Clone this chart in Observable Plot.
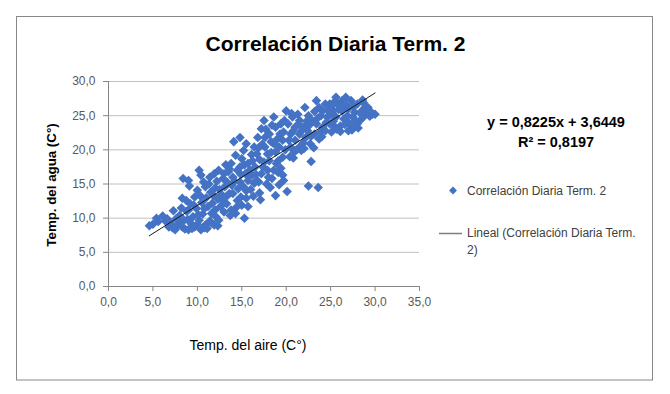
<!DOCTYPE html>
<html><head><meta charset="utf-8">
<script src="https://cdn.jsdelivr.net/npm/d3@7"></script>
<script src="https://cdn.jsdelivr.net/npm/@observablehq/plot@0.6"></script>
<style>html,body{margin:0;padding:0;background:#fff;} svg{display:block}</style>
</head><body><div id="chart"></div>
<script>
const chartTitle = "Correlación Diaria Term. 2";
const xTitle = "Temp. del aire (C°)";
const yTitle = "Temp. del agua (C°)";
const seriesName = "Correlación Diaria Term. 2";
const trendNameLines = ["Lineal (Correlación Diaria Term.", "2)"];
const xTicks = [0, 5, 10, 15, 20, 25, 30, 35];
const yTicks = [0, 5, 10, 15, 20, 25, 30];
const trendSlope = 0.8225;
const trendIntercept = 3.6449;
const trendRange = [4.6, 30.0];
const equationLines = ["y = 0,8225x + 3,6449", "R² = 0,8197"];

// [air temp, water temp]
const dailyPairs = [
  [4.6,8.9],[5.0,9.1],[5.4,10.0],[5.6,9.5],[6.1,10.3],[6.4,9.6],[6.8,8.7],[7.3,11.1],[7.0,9.3],
  [7.5,8.3],[7.8,9.0],[8.3,8.7],[8.0,10.4],[8.5,9.7],[8.8,11.0],[9.0,8.3],[9.3,9.2],[9.5,10.2],[9.7,8.7],
  [10.2,9.7],[10.4,8.3],[10.6,10.6],[10.9,9.0],[11.1,8.5],[11.4,9.6],[7.6,9.9],[8.6,8.4],
  [6.6,9.9],[7.2,8.6],[8.1,9.2],[8.9,9.8],[9.4,8.5],[10.0,9.1],[10.8,8.6],[11.6,9.3],[12.3,8.9],
  [12.0,11.2],[10.1,10.5],[9.0,11.2],[8.2,11.5],[9.6,11.9],
  [8.4,15.8],[9.0,15.5],[9.1,14.7],[8.3,12.9],[8.75,12.6],[9.2,12.1],[9.7,13.1],[10.0,14.1],[10.2,17.0],
  [10.4,16.3],[10.7,15.3],[10.9,14.6],[11.4,16.0],[11.9,16.5],[11.2,11.7],[11.6,10.7],[12.1,10.2],[11.9,9.0],
  [12.4,9.7],[12.6,11.7],[12.8,12.6],[13.1,14.6],[12.4,17.0],[13.2,17.8],[9.9,11.4],[10.5,12.3],[10.3,13.3],
  [11.0,13.0],[11.5,13.8],[12.0,14.4],[12.2,15.4],[11.7,12.2],[12.9,15.8],[13.0,10.9],[12.7,13.5],[11.3,15.0],
  [10.8,11.4],[11.8,13.3],[12.5,14.2],[13.3,13.2],[13.9,14.8],[14.2,15.4],[14.9,13.1],[15.5,14.0],[14.4,11.6],
  [13.0,16.5],[12.3,12.8],[13.6,17.2],[14.9,16.4],[15.8,16.2],[16.4,15.1],[16.1,19.3],[15.3,17.8],
  [14.1,21.2],[14.8,21.8],[15.5,20.9],[15.2,19.9],[14.3,19.2],[13.8,18.0],[14.8,17.5],[15.7,18.0],[16.2,18.4],
  [16.7,19.4],[16.4,20.4],[14.0,16.0],[14.8,15.3],[15.2,14.6],[15.7,15.5],[16.2,16.3],[16.7,15.5],[14.0,13.6],
  [14.5,12.6],[15.0,11.9],[15.5,12.9],[13.8,11.2],[14.3,10.7],[15.3,10.0],[15.7,11.7],[13.3,12.1],[13.6,13.6],
  [13.5,16.8],[14.5,17.0],[15.0,18.7],[15.9,17.0],[16.0,14.2],[16.5,17.5],[13.4,15.2],[14.6,14.3],[15.4,16.5],
  [16.3,13.2],[13.7,10.4],
  [17.5,24.3],[17.2,23.1],[16.8,21.8],[17.6,21.8],[18.1,22.3],[18.6,24.8],[18.8,23.3],[19.3,22.3],[20.0,25.7],
  [19.8,24.3],[19.6,21.4],[18.6,20.9],[17.6,20.4],[17.9,19.4],[18.8,19.7],[19.6,18.9],[19.1,18.4],[18.1,18.4],
  [17.4,17.5],[17.2,16.5],[17.9,17.0],[18.6,17.0],[19.1,16.7],[19.6,16.3],[19.7,15.5],[17.8,15.0],[17.0,13.7],
  [17.1,12.7],[18.8,13.3],[20.1,13.9],[16.9,15.3],[17.0,18.6],[18.3,21.2],[19.2,20.4],[19.9,20.0],[18.4,15.8],
  [17.3,20.8],[19.4,23.8],
  [16.6,16.4],[17.5,18.2],[18.3,19.6],[18.0,16.0],[18.9,18.0],[19.4,17.3],[17.7,23.0],[18.4,23.6],[19.0,21.6],
  [19.7,22.6],[16.9,20.3],[18.2,14.5],[19.2,14.9],
  [20.8,18.8],[20.5,20.4],[21.0,21.4],[21.5,22.3],[21.0,23.3],[21.5,24.3],[22.1,26.2],[22.5,25.0],[22.0,23.3],
  [22.2,21.8],[22.7,20.9],[23.2,22.3],[23.4,23.8],[22.9,24.3],[23.4,27.2],[23.7,26.2],[23.9,25.0],[24.1,23.3],
  [23.7,21.6],[21.5,20.4],[22.8,18.3],[22.5,14.7],[23.6,14.5],[20.5,22.3],[20.3,21.4],[21.3,25.2],[21.7,19.9],
  [20.2,23.8],[20.7,24.8],[22.4,22.8],[23.1,20.3],[21.9,21.0],[20.9,19.7],[22.6,23.6],[24.0,21.9],
  [20.4,19.0],[21.2,20.0],[21.8,22.9],[22.3,24.2],[20.8,22.8],[21.4,23.8],[22.8,22.0],[23.5,24.6],[23.9,22.7],
  [23.2,25.6],[20.6,25.3],[22.0,20.2],
  [25.6,27.7],[26.7,27.7],[24.9,26.7],[25.8,26.7],[26.3,27.2],[27.3,27.2],[28.0,26.7],[28.7,26.9],[29.2,26.2],
  [25.3,25.7],[26.3,25.7],[27.0,26.0],[27.7,25.5],[28.5,25.7],[29.7,25.2],[30.0,25.2],[24.6,24.8],[25.6,24.8],
  [26.5,24.5],[27.5,24.8],[28.7,24.8],[24.9,23.8],[26.1,23.5],[27.0,24.0],[28.0,23.8],[28.1,23.2],[26.1,22.7],
  [27.0,22.8],[24.4,22.8],[25.1,22.6],[24.1,25.7],[24.4,26.7],[25.0,25.2],[25.9,25.9],[26.8,26.5],[27.6,26.3],
  [28.3,24.3],[29.0,25.6],[29.4,24.9],[26.6,23.7],[25.4,23.5],[27.3,23.5],[25.5,27.1],[28.9,26.2],
  [24.5,24.0],[25.3,24.2],[25.7,23.0],[26.4,26.4],[26.9,25.0],[27.8,24.3],[28.4,25.3],[24.7,25.8],[25.2,26.5],
  [27.4,22.9],[29.5,25.6],[28.6,27.3]
];

const FONT = "'Liberation Sans', Arial, Helvetica, sans-serif";
const fmt = d => d.toFixed(1).replace(".", ",");
const points = dailyPairs.map(([air, water]) => ({air, water}));
const trend = trendRange.map(air => ({air, water: trendSlope * air + trendIntercept}));
const BLUE = "#4472c4";

const svg = Plot.plot({
  width: 670, height: 394,
  marginLeft: 108, marginRight: 251, marginTop: 81, marginBottom: 108,
  style: {fontFamily: FONT, background: "#fff", overflow: "visible"},
  x: {domain: [0, 35]},
  y: {domain: [0, 30]},
  marks: [
    Plot.gridY(yTicks.filter(d => d > 0), {stroke: "#c0c0c0", strokeOpacity: 1, strokeWidth: 1}),
    Plot.axisY(yTicks, {tickSize: 5, tickPadding: 8, tickFormat: fmt, stroke: "#868686", fill: "#595959", fontSize: 12, label: null}),
    Plot.axisX(xTicks, {tickSize: 5, tickPadding: 6, tickFormat: fmt, stroke: "#868686", fill: "#595959", fontSize: 12, label: null}),
    Plot.ruleX([0], {stroke: "#868686"}),
    Plot.ruleY([0], {stroke: "#868686"}),
    Plot.dot(points, {x: "air", y: "water", symbol: "diamond2", r: 4.3, fill: BLUE}),
    Plot.line(trend, {x: "air", y: "water", stroke: "#1a1a1a", strokeWidth: 1})
  ]
});

const s = d3.select(svg);
s.insert("rect", ":first-child")
  .attr("x", 16.5).attr("y", 16.5).attr("width", 636).attr("height", 363.5)
  .attr("fill", "#fff").attr("stroke", "#888").attr("stroke-width", 1);

s.append("text").attr("x", 335.5).attr("y", 51).attr("text-anchor", "middle")
  .attr("font-size", 21).attr("font-weight", "bold").attr("fill", "#000").text(chartTitle);

s.append("text").attr("transform", "translate(56,185) rotate(-90)").attr("text-anchor", "middle")
  .attr("font-size", 13.3).attr("font-weight", "bold").attr("fill", "#000").text(yTitle);

s.append("text").attr("x", 248).attr("y", 350).attr("text-anchor", "middle")
  .attr("font-size", 14).attr("fill", "#000").text(xTitle);

equationLines.forEach((t, i) => {
  s.append("text").attr("x", 556).attr("y", 127 + i * 20).attr("text-anchor", "middle")
    .attr("font-size", 14.5).attr("font-weight", "bold").attr("fill", "#000").text(t);
});

// legend
s.append("path").attr("d", d3.symbol(d3.symbolDiamond2, 40)())
  .attr("transform", "translate(453,190.5)").attr("fill", BLUE);
s.append("text").attr("x", 467).attr("y", 194.5).attr("text-anchor", "start")
  .attr("font-size", 12).attr("fill", "#404040").text(seriesName);
s.append("line").attr("x1", 439).attr("x2", 462).attr("y1", 233.5).attr("y2", 233.5)
  .attr("stroke", "#7f7f7f").attr("stroke-width", 1.5);
trendNameLines.forEach((t, i) => {
  s.append("text").attr("x", 467).attr("y", 237 + i * 16.5).attr("text-anchor", "start")
    .attr("font-size", 12).attr("fill", "#404040").text(t);
});

document.getElementById("chart").appendChild(svg);
</script>
</body></html>
